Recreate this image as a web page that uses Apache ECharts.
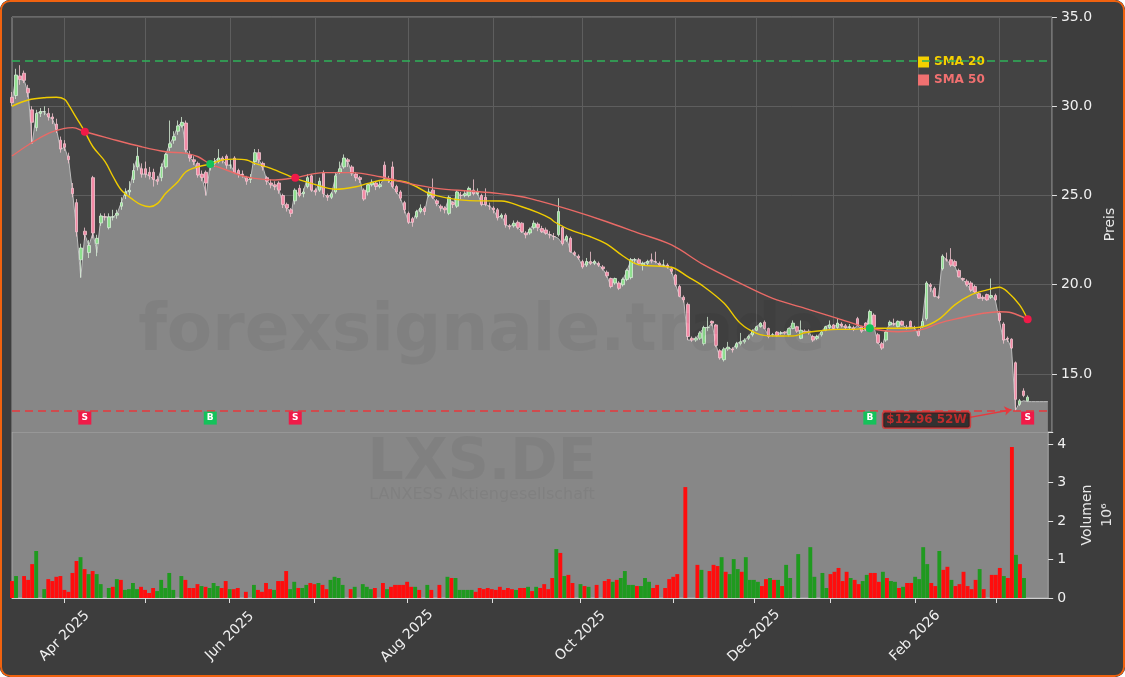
<!DOCTYPE html>
<html><head><meta charset="utf-8">
<script src="https://cdn.jsdelivr.net/npm/echarts@6/dist/echarts.min.js"></script>
<style>
html,body{margin:0;padding:0;background:#ffffff;}
#wrap{position:absolute;left:0;top:0;width:1125px;height:677px;border-radius:10px;overflow:hidden;background:#3d3d3d;}
#chart{position:absolute;left:0;top:0;width:1125px;height:677px;}
#frame{position:absolute;left:0;top:0;width:1125px;height:677px;box-sizing:border-box;border:2.5px solid #f0620f;border-radius:10px;pointer-events:none;}
</style></head><body>
<div id="wrap"><div id="chart"></div><div id="frame"></div></div>
<script>
// ---------------- data ----------------
const startDate = '2025-03-12';
const extraSlots = 6;
const holidays = ['2025-04-18','2025-04-21','2025-05-01','2025-12-24','2025-12-25','2025-12-26','2025-12-31','2026-01-01'];

const opens = [
30.5,30.6,31.7,31.85,31.0,29.8,28.8,29.6,29.7,29.6,
29.4,29.0,28.1,27.9,27.2,25.4,24.6,21.4,23.0,21.8,
26.0,22.3,23.46,23.8,23.2,23.8,23.9,24.4,25.0,25.2,
25.9,26.6,26.5,26.5,26.3,26.3,25.9,26.0,26.6,27.7,
28.1,28.6,28.9,29.06,27.3,27.0,26.8,26.2,26.3,26.6,
26.8,26.9,27.1,27.2,26.7,27.1,26.4,26.2,26.0,25.9,
26.9,27.4,26.8,26.0,25.7,25.6,25.7,25.0,24.5,24.2,
24.7,25.4,25.1,25.5,26.1,25.3,25.3,26.25,25.0,24.9,
25.2,26.3,26.6,27.0,26.6,26.2,26.0,25.3,25.2,25.6,
25.7,25.5,26.7,25.9,26.6,25.5,25.2,24.6,24.0,23.7,
23.8,24.1,24.3,25.0,25.3,24.7,24.4,24.3,24.0,24.6,
24.4,25.0,25.0,25.0,25.3,25.1,25.0,24.9,24.4,24.3,
24.2,23.8,23.9,23.3,23.3,23.5,23.45,22.9,22.9,23.2,
23.4,23.15,23.07,22.8,22.7,22.8,23.2,22.5,22.6,21.8,
21.6,21.3,21.1,21.3,21.2,21.2,21.0,20.7,20.35,20.1,
20.1,20.0,20.3,20.4,21.4,21.4,21.1,21.2,21.4,21.3,
21.2,21.1,21.1,20.9,20.55,19.9,19.3,18.9,17.0,16.9,
17.0,16.7,17.6,17.95,17.75,16.3,15.8,16.4,16.4,16.5,
16.7,16.8,17.0,17.2,17.45,17.65,17.9,17.55,17.2,17.35,
17.3,17.35,17.2,17.55,17.65,17.0,17.4,17.4,17.1,17.0,
17.2,17.45,17.6,17.75,17.6,17.8,17.7,17.6,17.6,18.1,
17.65,17.85,17.65,18.3,17.2,16.7,16.9,17.75,17.8,17.65,
17.95,17.6,17.95,17.6,17.4,17.65,18.1,20.0,19.8,19.3,
20.9,21.4,21.4,21.3,20.8,20.35,20.2,20.1,19.9,19.5,
19.3,19.45,19.3,19.4,18.4,17.8,17.0,16.95,15.63,13.3,
14.05,13.5];

const closes = [
30.2,31.75,31.5,31.45,30.75,29.1,29.6,29.7,29.7,29.4,
29.3,28.7,27.6,27.7,27.0,25.1,22.96,22.06,22.8,22.2,
22.9,22.6,23.85,23.8,23.8,23.8,24.0,24.6,25.2,25.3,
26.4,27.2,26.2,26.2,26.1,25.9,25.8,26.6,27.3,27.9,
28.3,28.9,29.1,27.55,27.1,26.9,26.15,26.0,25.7,26.8,
26.9,27.1,27.0,26.7,26.7,26.3,26.2,26.15,25.8,26.0,
27.4,27.0,26.6,25.8,25.6,25.5,25.3,24.5,24.3,24.0,
25.3,25.0,25.2,26.0,25.3,25.2,25.8,25.1,24.9,25.1,
26.1,26.5,27.1,26.9,26.25,26.0,25.9,24.8,25.6,25.75,
25.5,25.6,26.0,25.9,25.5,25.2,24.85,24.2,23.5,23.5,
24.1,24.3,24.1,25.2,24.9,24.55,24.3,24.2,24.9,24.5,
25.2,25.0,25.1,25.4,25.1,25.2,24.5,24.5,24.4,24.2,
23.75,23.9,23.35,23.25,23.45,23.2,22.97,22.8,23.1,23.45,
23.2,22.97,22.88,22.8,22.7,24.1,22.3,22.7,21.85,21.7,
21.5,21.0,21.3,21.2,21.3,21.1,20.9,20.5,19.9,20.35,
19.8,20.3,20.8,21.4,21.4,21.2,21.2,21.3,21.35,21.3,
21.1,21.1,21.0,20.75,20.0,19.35,19.15,17.1,16.9,17.0,
17.3,17.6,17.6,17.85,16.6,15.9,16.4,16.5,16.35,16.7,
16.8,16.9,17.1,17.4,17.65,17.85,17.55,17.1,17.2,17.15,
17.3,17.3,17.55,17.85,17.4,17.45,17.35,17.35,16.9,17.1,
17.35,17.65,17.75,17.55,17.85,17.7,17.6,17.65,17.5,17.75,
17.4,17.5,18.5,17.65,16.75,16.45,17.35,17.9,17.8,17.95,
17.75,17.6,17.65,17.6,17.15,17.95,20.1,19.9,19.35,19.3,
21.6,21.4,21.1,21.05,20.45,20.3,20.0,19.7,19.6,19.25,
19.25,19.15,19.4,19.15,18.0,16.9,16.95,16.45,13.58,13.5,
13.8,13.7];

const lows = [
30.0,30.4,31.2,31.3,30.5,27.9,28.6,29.4,29.5,29.2,
29.0,28.5,27.4,27.5,26.8,24.9,22.7,20.4,22.5,21.5,
22.6,21.6,23.3,23.6,23.1,23.6,23.7,24.2,24.8,25.0,
25.7,26.4,26.0,26.0,25.9,25.5,25.6,25.8,26.5,27.5,
27.9,28.4,28.8,27.4,26.9,26.7,26.0,25.8,25.0,26.4,
26.6,26.8,26.8,26.5,26.5,26.2,26.0,26.0,25.6,25.7,
26.7,26.8,26.4,25.6,25.4,25.3,25.1,24.3,24.1,23.8,
24.5,24.9,24.9,25.4,25.2,25.0,25.2,24.9,24.7,24.8,
25.1,26.2,26.5,26.6,26.1,25.8,25.7,24.7,25.0,25.5,
25.3,25.4,25.9,25.7,25.4,25.1,24.7,24.0,23.4,23.25,
23.7,24.0,23.9,24.9,24.8,24.4,24.1,24.0,23.9,24.3,
24.3,24.8,24.9,24.9,25.0,25.0,24.4,24.4,24.2,24.0,
23.6,23.7,23.2,23.1,23.2,23.1,22.9,22.6,22.8,23.1,
23.0,22.9,22.8,22.6,22.5,22.7,22.2,22.4,21.8,21.6,
21.4,20.9,21.0,21.1,21.1,21.0,20.8,20.4,19.8,20.0,
19.7,19.9,20.2,20.3,21.2,21.1,20.8,21.1,21.2,21.2,
21.0,21.0,20.9,20.6,19.9,19.3,19.0,16.9,16.8,16.8,
16.9,16.6,17.4,17.7,16.5,15.8,15.7,16.3,16.2,16.4,
16.6,16.7,16.9,17.1,17.4,17.6,17.5,17.0,17.1,17.1,
17.2,17.2,17.1,17.5,17.3,16.95,17.3,17.2,16.8,16.9,
17.1,17.4,17.5,17.5,17.5,17.6,17.5,17.5,17.4,17.7,
17.3,17.4,17.6,17.6,16.7,16.35,16.8,17.7,17.7,17.6,
17.7,17.5,17.6,17.5,17.1,17.6,18.0,19.6,19.3,19.2,
20.8,21.3,21.0,21.0,20.4,20.2,19.9,19.6,19.5,19.2,
19.1,19.1,19.2,19.1,17.9,16.7,16.8,16.4,12.96,13.2,
13.7,13.45];

const highs = [
30.8,32.1,32.3,32.0,31.2,30.0,29.8,29.9,30.0,29.9,
29.6,29.3,28.3,28.1,27.4,25.7,24.8,22.3,23.2,22.5,
26.1,22.8,24.0,24.0,24.0,24.2,24.2,24.9,25.4,25.8,
26.8,27.7,26.8,26.9,26.6,26.5,26.1,26.8,27.4,29.2,
28.6,29.2,29.4,29.2,27.5,27.2,26.9,26.4,26.4,26.9,
27.1,27.6,27.2,27.3,27.0,27.2,26.5,26.4,26.1,26.2,
27.6,27.6,26.9,26.1,25.9,25.8,25.8,25.1,24.6,24.3,
25.4,25.6,25.4,26.2,26.2,25.4,26.0,26.4,25.1,25.2,
26.3,26.9,27.3,27.1,26.7,26.3,26.1,25.4,25.7,25.9,
25.8,25.8,26.9,26.1,26.9,25.6,25.3,24.7,24.1,23.8,
24.2,24.5,24.4,25.4,25.95,24.8,24.5,24.4,25.0,24.7,
25.3,25.2,25.3,25.5,25.9,25.4,25.1,25.4,24.6,24.4,
24.3,24.0,24.0,23.4,23.6,23.6,23.5,23.0,23.2,23.6,
23.5,23.3,23.2,23.0,22.9,24.85,23.3,22.8,22.7,21.9,
21.7,21.4,21.5,21.85,21.4,21.3,21.1,20.8,20.4,20.4,
20.2,20.4,20.9,21.5,21.5,21.5,21.3,21.4,21.75,21.85,
21.3,21.4,21.2,21.0,20.6,20.0,19.4,19.0,17.1,17.1,
17.4,17.7,18.2,18.0,17.8,16.4,16.5,16.8,16.5,16.8,
17.3,17.0,17.2,17.5,17.7,17.9,18.0,17.6,17.3,17.4,
17.4,17.4,17.6,18.0,17.7,18.0,17.5,17.5,17.2,17.2,
17.4,17.7,18.0,17.8,18.1,17.9,17.8,17.8,17.7,18.2,
17.7,17.9,18.6,18.4,17.3,16.8,17.45,18.0,18.1,18.0,
18.0,17.75,18.0,17.7,17.5,18.1,20.2,20.1,19.9,19.4,
21.7,21.8,22.05,21.4,20.9,20.4,20.3,20.2,20.0,19.6,
19.4,19.5,20.35,19.5,18.5,17.9,17.1,17.0,15.7,13.6,
14.2,13.8];

// grey close area: differs from closes at a few spikes, then runs flat past the last bar
const areaFixIdx = [5, 17, 21, 48, 135, 167, 248, 249, 250, 251];
const areaFixVal = [27.9, 20.4, 21.8, 25.0, 22.6, 16.9, 12.96, 13.4, 13.5, 13.45];
const areaTail = [13.45, 13.45, 13.45, 13.45, 13.45];

// volume in millions, colour per bar (g = up, r = down, - = none)
const volumes = [
0.44,0.57,0,0.57,0.47,0.88,1.22,0,0.23,0.49,
0.44,0.55,0.57,0.21,0.16,0.65,0.96,1.06,0.75,0.62,
0.70,0.62,0.36,0,0.26,0.29,0.49,0.47,0.21,0.23,
0.39,0.23,0.29,0.21,0.13,0.26,0.18,0.47,0.26,0.65,
0.21,0,0.57,0.47,0.26,0.26,0.36,0.31,0.29,0.26,
0.39,0.31,0.26,0.44,0.23,0.23,0.26,0,0.16,0,
0.34,0.21,0.16,0.39,0.23,0.21,0.44,0.44,0.70,0.23,
0.42,0.26,0.26,0.34,0.39,0.36,0.39,0.34,0.23,0.47,
0.55,0.52,0.34,0,0.23,0.29,0,0.36,0.29,0.23,
0.26,0,0.39,0.23,0.29,0.34,0.34,0.34,0.42,0.29,
0.29,0.21,0,0.34,0.21,0,0.34,0,0.55,0.52,
0.52,0.21,0.21,0.21,0.21,0.16,0.26,0.23,0.26,0.23,
0.21,0.29,0.21,0.26,0.23,0.21,0.26,0.26,0.29,0.18,
0.29,0.26,0.36,0.23,0.52,1.27,1.17,0.57,0.60,0.39,
0,0.36,0.31,0.29,0,0.34,0,0.44,0.49,0.42,
0.47,0.52,0.70,0.34,0.34,0.31,0.31,0.52,0.42,0.26,
0.34,0,0.26,0.49,0.55,0.62,0,2.88,0,0,
0.86,0.73,0,0.70,0.86,0.83,1.06,0.68,0.62,1.01,
0.75,0.68,1.06,0.47,0.47,0.42,0.31,0.49,0.52,0.47,
0.47,0.31,0.86,0.52,0,1.14,0,0,1.32,0.55,
0,0.65,0.26,0.62,0.68,0.78,0.44,0.68,0.52,0.47,
0.36,0.44,0.60,0.65,0.65,0.42,0.68,0.52,0.44,0.42,
0.26,0.29,0.39,0.39,0.55,0.49,1.32,0.88,0.39,0.31,
1.22,0.73,0.81,0.47,0.31,0.36,0.68,0.31,0.23,0.47,
0.75,0.23,0,0.60,0.60,0.78,0.57,0.52,3.92,1.12,
0.88,0.52];
const volDir =
'rg-rrrg-gr' + 'rrrrrrrgrg' + 'rgg-grgrgg' + 'ggrrrrgggg' + 'g-grrrrgrg' +
'ggrrgrr-r-' + 'grrrrgrrrg' + 'grggrrgrrg' + 'ggg-rg-ggg' + 'r-rgrrrrrr' +
'gr-gr-r-gr' + 'gggggrrrrr' + 'rrrrrgrrgr' + 'grrrrgrgrr' + '-grg-r-rrg' +
'rggggrgggr' + 'r-rrrr-r--' + 'rg-rrrgrgg' + 'grggggrrgr' + 'grgg-g--gg' +
'-ggrrrrrgr' + 'rggrrrgrgg' + 'rgrrggggrr' + 'grrgrrrrrr' + 'gr-rrrgrrg' + 'rg';

// moving averages read at sample bars (index into the bar list)
const sma20Idx = [0,4,8,11,13,14,16,18,20,23,25,27,30,32,34,36,38,41,43,46,49,52,55,58,60,64,70,74,80,85,88,92,97,100,103,108,113,121,126,130,133,134,138,143,147,151,155,159,163,167,171,176,180,184,188,193,196,200,204,207,212,219,225,229,233,237,241,244,246,249,251];
const sma20Val = [30.0,30.35,30.48,30.5,30.39,30.07,29.32,28.57,27.73,26.9,26.05,25.31,24.75,24.47,24.37,24.56,25.12,25.77,26.33,26.61,26.76,26.99,27.04,26.99,26.8,26.52,25.96,25.68,25.35,25.49,25.68,25.87,25.77,25.49,25.12,24.84,24.71,24.69,24.37,24.04,23.72,23.53,23.07,22.69,22.28,21.61,21.11,21.05,20.98,20.45,19.89,18.96,17.84,17.28,17.13,17.13,17.31,17.43,17.5,17.5,17.56,17.56,17.65,18.06,18.87,19.43,19.71,19.86,19.61,18.87,18.06];
const sma50Idx = [0,4,9,13,15,18,24,32,38,43,46,49,53,57,60,65,70,77,84,91,98,105,113,120,126,130,138,147,155,163,171,180,188,196,204,212,219,225,229,234,240,244,247,251];
const sma50Val = [27.21,27.83,28.48,28.76,28.8,28.57,28.2,27.73,27.45,27.36,27.17,26.76,26.43,26.09,25.96,25.87,26.0,26.28,26.28,26.05,25.68,25.4,25.25,25.12,24.93,24.71,24.19,23.53,22.88,22.23,21.11,20.08,19.24,18.68,18.12,17.56,17.37,17.5,17.84,18.12,18.4,18.49,18.43,18.06];

// crossover signals
const signalIdx = [18, 49, 70, 212, 251];
const signalType = ['S', 'B', 'S', 'B', 'S'];
const crossVal = [28.57, 26.76, 26.0, 17.56, 18.06];

const high52w = 32.54;
const low52w = 12.96;
const low52wLabel = '$12.96 52W';

// month ticks (last trading day of each month) and labelled months
const tickDates = ['2025-03-31','2025-04-30','2025-05-30','2025-06-30','2025-07-31','2025-08-29','2025-09-30','2025-10-31','2025-11-28','2025-12-30','2026-01-30','2026-02-27'];
const labelDates = ['2025-03-31','2025-05-30','2025-07-31','2025-09-30','2025-11-28','2026-01-30'];
const labelTexts = ['Apr 2025','Jun 2025','Aug 2025','Oct 2025','Dec 2025','Feb 2026'];
const priceTicks = [15, 20, 25, 30, 35];

// ---------------- build ----------------
function buildDates(start, n) {
  const out = [];
  const d = new Date(start + 'T00:00:00Z');
  while (out.length < n) {
    const dow = d.getUTCDay();
    const s = d.toISOString().slice(0, 10);
    if (dow !== 0 && dow !== 6 && holidays.indexOf(s) < 0) out.push(s);
    d.setUTCDate(d.getUTCDate() + 1);
  }
  return out;
}
const dates = buildDates(startDate, closes.length + extraSlots);

const candleData = closes.map((c, i) => [opens[i], c, lows[i], highs[i]]);
const areaData = closes.map((c, i) => {
  const j = areaFixIdx.indexOf(i);
  return j >= 0 ? areaFixVal[j] : c;
}).concat(areaTail);

const GREEN_V = '#1f9a1f', RED_V = '#ff0d0d';
const volData = volumes.map((v, i) => v > 0 ? { value: v, itemStyle: { color: volDir[i] === 'g' ? GREEN_V : RED_V } } : '-');

const sma20Data = sma20Idx.map((k, i) => [k, sma20Val[i]]);
const sma50Data = sma50Idx.map((k, i) => [k, sma50Val[i]]);

const SELL = '#f01a48', BUY = '#14c25a';
const crossData = signalIdx.map((k, i) => ({ value: [k, crossVal[i]], itemStyle: { color: signalType[i] === 'S' ? SELL : BUY } }));
const SIGNAL_ROW = 12.53;
const signalData = signalIdx.map((k, i) => ({ value: [k, SIGNAL_ROW], name: signalType[i], itemStyle: { color: signalType[i] === 'S' ? SELL : BUY } }));

const FONT = 'DejaVu Sans';
const isTick = (idx, val) => tickDates.indexOf(val) >= 0;
const C_SMA20 = '#f0cc00', C_SMA50 = '#ea6a66';

const chart = echarts.init(document.getElementById('chart'), null, { renderer: 'canvas' });
const option = {
  backgroundColor: '#3d3d3d',
  animation: false,
  textStyle: { fontFamily: FONT },
  legend: {
    orient: 'vertical', left: 913, top: 51, itemWidth: 11, itemHeight: 11, itemGap: 6,
    icon: 'rect', selectedMode: false,
    itemStyle: { opacity: 1, borderWidth: 0 },
    textStyle: { fontWeight: 'bold', fontSize: 12, fontFamily: FONT },
    data: [
      { name: 'SMA 20', textStyle: { color: '#f5d000' } },
      { name: 'SMA 50', textStyle: { color: '#f07070' } }
    ]
  },
  grid: [
    { left: 12, right: 71, top: 17, height: 415, show: true, backgroundColor: '#434343', borderColor: '#979797', borderWidth: 1 },
    { left: 12, right: 71, top: 432, bottom: 79, show: true, backgroundColor: '#878787', borderColor: '#a8a8a8', borderWidth: 1 }
  ],
  xAxis: [
    {
      type: 'category', gridIndex: 0, data: dates, boundaryGap: false,
      axisLine: { show: false }, axisTick: { show: false }, axisLabel: { show: false },
      splitLine: { show: true, interval: isTick, lineStyle: { color: '#5e5e5e', width: 1 } }
    },
    {
      type: 'category', gridIndex: 1, data: dates, boundaryGap: false,
      axisLine: { show: true, lineStyle: { color: '#d0d0d0' } },
      axisTick: { show: true, interval: isTick, length: 5, lineStyle: { color: '#e0e0e0' } },
      axisLabel: {
        show: true, rotate: 45, color: '#f0f0f0', fontSize: 14, fontFamily: FONT, margin: 38,
        align: 'center', verticalAlign: 'middle',
        interval: (idx, val) => labelDates.indexOf(val) >= 0,
        formatter: (val) => { const j = labelDates.indexOf(val); return j >= 0 ? labelTexts[j] : ''; }
      },
      splitLine: { show: false }
    }
  ],
  yAxis: [
    {
      type: 'value', gridIndex: 0, position: 'right', min: 11.75, max: 35, splitNumber: 5,
      name: 'Preis', nameLocation: 'middle', nameRotate: 90, nameGap: 41,
      nameTextStyle: { color: '#e8e8e8', fontSize: 14, fontFamily: FONT },
      axisLine: { show: false },
      axisTick: { show: true, inside: false, length: 5, lineStyle: { color: '#e0e0e0' }, customValues: priceTicks },
      axisLabel: {
        color: '#f0f0f0', fontSize: 14, fontFamily: FONT, margin: 9, customValues: priceTicks,
        formatter: (v) => (Math.abs(v / 5 - Math.round(v / 5)) < 1e-6 ? Number(v).toFixed(1) : '')
      },
      splitLine: { show: true, lineStyle: { color: '#5e5e5e', width: 1 } }
    },
    {
      type: 'value', gridIndex: 1, position: 'right', min: 0, max: 4.31, interval: 1,
      name: 'Volumen\n10\u2076', nameLocation: 'middle', nameRotate: 90, nameGap: 21,
      nameTextStyle: { color: '#e8e8e8', fontSize: 14, fontFamily: FONT, lineHeight: 20 },
      axisLine: { show: false },
      axisTick: { show: true, inside: false, length: 5, lineStyle: { color: '#e0e0e0' } },
      axisLabel: {
        color: '#f0f0f0', fontSize: 14, fontFamily: FONT, margin: 9,
        formatter: (v) => (Math.abs(v - Math.round(v)) < 1e-6 ? String(Math.round(v)) : '')
      },
      splitLine: { show: false }
    }
  ],
  graphic: [
    { type: 'text', x: 482, y: 333, z: 50, silent: true,
      style: { text: 'forexsignale.trade', font: 'bold 66px "DejaVu Sans"', fill: 'rgba(0,0,0,0.05)', align: 'center', verticalAlign: 'middle' } },
    { type: 'text', x: 482, y: 464, z: 50, silent: true,
      style: { text: 'LXS.DE', font: 'bold 57px "DejaVu Sans"', fill: 'rgba(0,0,0,0.05)', align: 'center', verticalAlign: 'middle' } },
    { type: 'text', x: 482, y: 495, z: 50, silent: true,
      style: { text: 'LANXESS Aktiengesellschaft', font: '16px "DejaVu Sans"', fill: 'rgba(0,0,0,0.05)', align: 'center', verticalAlign: 'middle' } }
  ],
  series: [
    {
      name: 'Kurs', type: 'line', xAxisIndex: 0, yAxisIndex: 0, data: areaData,
      symbol: 'none', z: 1, silent: true,
      lineStyle: { color: '#bdbdbd', width: 1 },
      areaStyle: { color: '#878787', opacity: 1 }
    },
    {
      name: 'Levels', type: 'line', xAxisIndex: 0, yAxisIndex: 0, data: [], z: 2, silent: true,
      markLine: {
        silent: true, symbol: 'none', label: { show: false }, animation: false,
        data: [
          { yAxis: high52w, lineStyle: { color: '#2fb35a', type: [8, 5], width: 1.5 } },
          { yAxis: low52w, lineStyle: { color: '#e8383d', type: [8, 5], width: 1.5 } },
          [
            { coord: [235, 12.5], lineStyle: { color: '#e8383d', type: 'solid', width: 1.5 }, symbol: 'none' },
            { coord: [247, 13.0], symbol: 'arrow', symbolSize: 7 }
          ]
        ]
      }
    },
    {
      name: 'OHLC', type: 'candlestick', xAxisIndex: 0, yAxisIndex: 0, data: candleData, z: 3,
      barWidth: 3,
      itemStyle: { color: '#8fdf8f', color0: '#f48aa6', borderColor: '#d6eed6', borderColor0: '#f3c6d1', borderWidth: 0.8 }
    },
    {
      name: 'sma20line', type: 'line', xAxisIndex: 0, yAxisIndex: 0, data: sma20Data, z: 4,
      symbol: 'none', smooth: 0.35, color: C_SMA20, lineStyle: { color: C_SMA20, width: 1.4 }
    },
    {
      name: 'sma50line', type: 'line', xAxisIndex: 0, yAxisIndex: 0, data: sma50Data, z: 4,
      symbol: 'none', smooth: 0.35, color: C_SMA50, lineStyle: { color: C_SMA50, width: 1.4 }
    },
    { name: 'SMA 20', type: 'scatter', xAxisIndex: 0, yAxisIndex: 0, data: [], itemStyle: { color: '#f5d000', opacity: 1 } },
    { name: 'SMA 50', type: 'scatter', xAxisIndex: 0, yAxisIndex: 0, data: [], itemStyle: { color: '#f07070', opacity: 1 } },
    {
      name: 'Cross', type: 'scatter', xAxisIndex: 0, yAxisIndex: 0, data: crossData, z: 5,
      symbol: 'circle', symbolSize: 8, itemStyle: { opacity: 1 }
    },
    {
      name: 'Signal', type: 'scatter', xAxisIndex: 0, yAxisIndex: 0, data: signalData, z: 5,
      symbol: 'rect', symbolSize: 13, itemStyle: { opacity: 1 },
      label: { show: true, position: 'inside', formatter: (p) => p.name, color: '#ffffff', fontWeight: 'bold', fontSize: 9, fontFamily: FONT }
    },
    {
      name: 'Low52', type: 'scatter', xAxisIndex: 0, yAxisIndex: 0, data: [[226, 12.42]], z: 6,
      symbolSize: 1, itemStyle: { color: 'rgba(0,0,0,0)' },
      label: {
        show: true, position: 'inside', formatter: low52wLabel, color: '#e32b2b', fontWeight: 'bold', fontSize: 12,
        fontFamily: FONT, backgroundColor: '#1b1b1b', borderColor: '#d63030', borderWidth: 1.5, borderRadius: 2, padding: [2, 3, 1, 3]
      }
    },
    {
      name: 'Volumen', type: 'bar', xAxisIndex: 1, yAxisIndex: 1, data: volData, barCategoryGap: '4%', z: 2
    }
  ]
};
chart.setOption(option);
</script></body></html>
